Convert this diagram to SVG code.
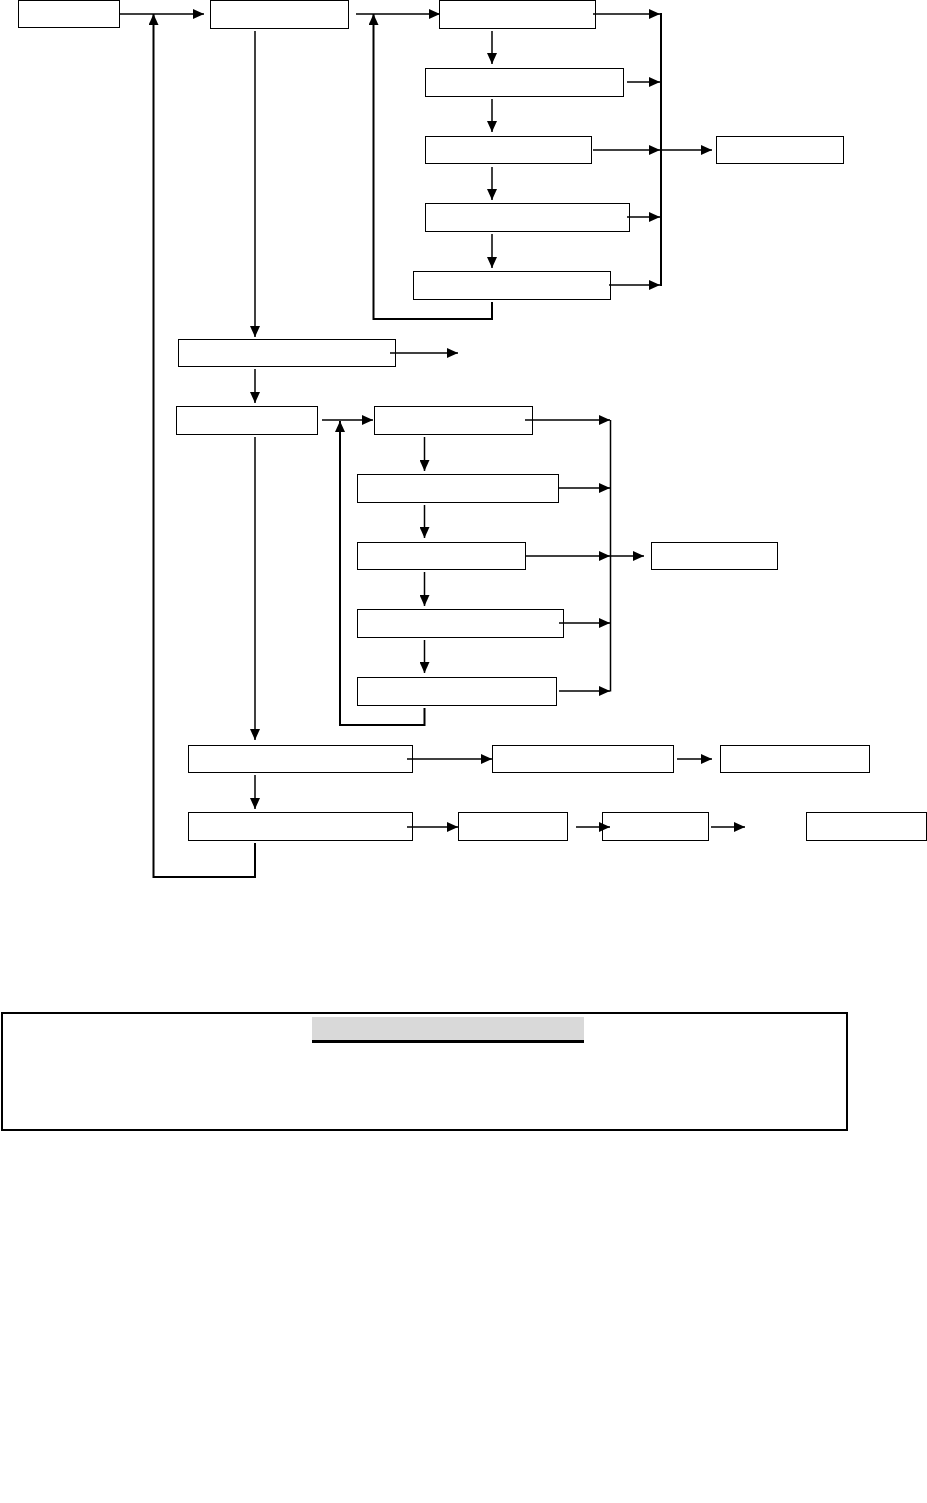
<svg xmlns="http://www.w3.org/2000/svg" width="927" height="1503" viewBox="0 0 927 1503">
<style>
.n{fill:#fff;stroke:#000;stroke-width:1}
.c line,.c path{fill:none;stroke:#000;stroke-width:1.5}
.a{marker-end:url(#ah)}
.t{stroke-width:2!important}
</style>
<defs>
<marker id="ah" markerUnits="userSpaceOnUse" markerWidth="11" markerHeight="10" refX="11" refY="5" orient="auto">
<path d="M0,0 L11,5 L0,10 z" fill="#000"/>
</marker>
</defs>
<rect width="927" height="1503" fill="#fff"/>
<g id="nodes">
<g id="nA"><rect class="n" x="18.5" y="0.5" width="101" height="27"/></g>
<g id="nB"><rect class="n" x="210.5" y="0.5" width="138" height="28"/></g>
<g id="nC"><rect class="n" x="439.5" y="0.5" width="156" height="28"/></g>
<g id="nD"><rect class="n" x="425.5" y="68.5" width="198" height="28"/></g>
<g id="nE"><rect class="n" x="425.5" y="136.5" width="166" height="27"/></g>
<g id="nF"><rect class="n" x="716.5" y="136.5" width="127" height="27"/></g>
<g id="nG"><rect class="n" x="425.5" y="203.5" width="204" height="28"/></g>
<g id="nH"><rect class="n" x="413.5" y="271.5" width="197" height="28"/></g>
<g id="nI"><rect class="n" x="178.5" y="339.5" width="217" height="27"/></g>
<g id="nJ"><rect class="n" x="176.5" y="406.5" width="141" height="28"/></g>
<g id="nK"><rect class="n" x="374.5" y="406.5" width="158" height="28"/></g>
<g id="nL"><rect class="n" x="357.5" y="474.5" width="201" height="28"/></g>
<g id="nM"><rect class="n" x="357.5" y="542.5" width="168" height="27"/></g>
<g id="nN"><rect class="n" x="651.5" y="542.5" width="126" height="27"/></g>
<g id="nO"><rect class="n" x="357.5" y="609.5" width="206" height="28"/></g>
<g id="nP"><rect class="n" x="357.5" y="677.5" width="199" height="28"/></g>
<g id="nQ"><rect class="n" x="188.5" y="745.5" width="224" height="27"/></g>
<g id="nS"><rect class="n" x="492.5" y="745.5" width="181" height="27"/></g>
<g id="nT"><rect class="n" x="720.5" y="745.5" width="149" height="27"/></g>
<g id="nR"><rect class="n" x="188.5" y="812.5" width="224" height="28"/></g>
<g id="nU"><rect class="n" x="458.5" y="812.5" width="109" height="28"/></g>
<g id="nV"><rect class="n" x="602.5" y="812.5" width="106" height="28"/></g>
<g id="nW"><rect class="n" x="806.5" y="812.5" width="120" height="28"/></g>
</g>
<g id="connectors" class="c">
<line class="a" x1="119.5" y1="14" x2="204" y2="14"/>
<path class="a t" d="M255,843 V877 H153.5 V14"/>
<line class="a" x1="255" y1="31" x2="255" y2="337"/>
<line class="a" x1="356" y1="14" x2="440" y2="14"/>
<path class="a t" d="M492,302 V319 H373.5 V14"/>
<line class="a" x1="593" y1="14" x2="660" y2="14"/>
<line class="a" x1="627" y1="82" x2="660" y2="82"/>
<line class="a" x1="593" y1="150" x2="660" y2="150"/>
<line class="a" x1="627" y1="217" x2="660" y2="217"/>
<line class="a" x1="609" y1="285" x2="660" y2="285"/>
<line class="t" x1="661" y1="13" x2="661" y2="286"/>
<line class="a" x1="661" y1="150" x2="712" y2="150"/>
<line class="a" x1="492" y1="31" x2="492" y2="64"/>
<line class="a" x1="492" y1="99" x2="492" y2="132"/>
<line class="a" x1="492" y1="167" x2="492" y2="200"/>
<line class="a" x1="492" y1="234" x2="492" y2="268"/>
<line class="a" x1="390" y1="353" x2="458" y2="353"/>
<line class="a" x1="255" y1="369" x2="255" y2="403"/>
<line class="a" x1="322" y1="420" x2="373" y2="420"/>
<path class="a t" d="M424.5,708 V725 H340 V421"/>
<line class="a" x1="525" y1="420" x2="610" y2="420"/>
<line class="a" x1="559" y1="488" x2="610" y2="488"/>
<line class="a" x1="526" y1="556" x2="610" y2="556"/>
<line class="a" x1="559" y1="623" x2="610" y2="623"/>
<line class="a" x1="559" y1="691" x2="610" y2="691"/>
<line x1="610.5" y1="420" x2="610.5" y2="691.5"/>
<line class="a" x1="610" y1="556" x2="644" y2="556"/>
<line class="a" x1="424.5" y1="437" x2="424.5" y2="471"/>
<line class="a" x1="424.5" y1="505" x2="424.5" y2="538"/>
<line class="a" x1="424.5" y1="572" x2="424.5" y2="606"/>
<line class="a" x1="424.5" y1="640" x2="424.5" y2="673"/>
<line class="a" x1="255" y1="437" x2="255" y2="740"/>
<line class="a" x1="407" y1="759" x2="492" y2="759"/>
<line class="a" x1="677" y1="759" x2="712" y2="759"/>
<line class="a" x1="255" y1="775" x2="255" y2="809"/>
<line class="a" x1="407" y1="827" x2="458" y2="827"/>
<line class="a" x1="576" y1="827" x2="610" y2="827"/>
<line class="a" x1="711" y1="827" x2="745" y2="827"/>
</g>
<g id="panel">
<rect x="2" y="1013" width="845" height="117" fill="#fff" stroke="#000" stroke-width="2"/>
<rect x="312" y="1017" width="272" height="23" fill="#d9d9d9"/>
<rect x="312" y="1040" width="272" height="3" fill="#000"/>
</g>
</svg>
